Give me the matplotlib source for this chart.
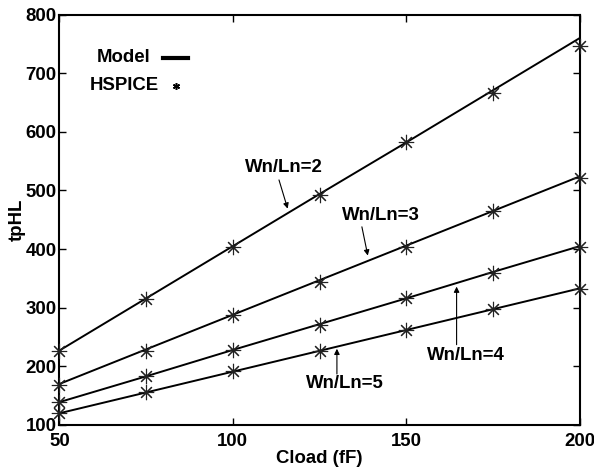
import matplotlib
matplotlib.use("Agg")
import matplotlib.pyplot as plt

plt.rcParams['font.family'] = ['Liberation Sans', 'DejaVu Sans']
plt.rcParams['font.weight'] = 'bold'

cload = [50, 75, 100, 125, 150, 175, 200]
series_labels = ["Wn/Ln=2", "Wn/Ln=3", "Wn/Ln=4", "Wn/Ln=5"]
model_2 = [227, 316, 405, 494, 582, 671, 760]
model_3 = [170, 229, 288, 347, 406, 465, 524]
model_4 = [139, 183, 228, 272, 316, 361, 405]
model_5 = [120, 155.5, 191, 226.5, 262, 297.5, 333]
hspice_2 = [227, 315, 403, 493, 582, 667, 747]
hspice_3 = [168, 227, 287, 344, 404, 465, 521]
hspice_4 = [139, 184, 228, 271, 316, 359, 404]
hspice_5 = [121, 156, 192, 227, 262, 298, 332]
xticks = [50, 100, 150, 200]
yticks = [100, 200, 300, 400, 500, 600, 700, 800]

FS = 13.4

fig = plt.figure(figsize=(5.94, 4.71), dpi=100)
ax = fig.add_axes([0.100, 0.0977, 0.876, 0.8713])

for m, h in [(model_2, hspice_2), (model_3, hspice_3), (model_4, hspice_4), (model_5, hspice_5)]:
    ax.plot(cload, m, color='black', lw=1.4, zorder=3)
    ax.plot(cload, h, linestyle='none', marker=(8, 2, 0), markersize=11,
            markeredgewidth=0.8, color='#222222', clip_on=False, zorder=4)

ax.set_xlim(50, 200)
ax.set_ylim(100, 800)
ax.set_xticks(xticks)
ax.set_yticks(yticks)
ax.tick_params(direction='in', length=5, width=1, top=True, right=True,
               labelsize=FS)
ax.tick_params(axis='x', pad=6)
ax.tick_params(axis='y', pad=2)
for lab in ax.get_xticklabels() + ax.get_yticklabels():
    lab.set_fontweight('bold')
for s in ax.spines.values():
    s.set_linewidth(1.5)

ax.set_xlabel("Cload (fF)", fontsize=FS, fontweight='bold', labelpad=0)
ax.set_ylabel("tpHL", fontsize=FS, fontweight='bold', labelpad=0)


def px(xp, yp):
    return fig.transFigure.inverted().transform((xp, 471 - yp))


# legend drawn manually
fig.text(*px(97, 58), "Model", fontsize=FS, fontweight='bold', va='center', ha='left')
fig.text(*px(90, 85), "HSPICE", fontsize=FS, fontweight='bold', va='center', ha='left')
fig.add_artist(plt.Line2D([px(163, 58)[0], px(188, 58)[0]], [px(163, 58)[1]] * 2,
                          color='black', lw=3, transform=fig.transFigure))
fig.add_artist(plt.Line2D([px(176, 86)[0]], [px(176, 86)[1]], marker=(6, 2, 0),
                          markersize=5, markeredgewidth=1.1, color='black',
                          transform=fig.transFigure))

arrow = dict(arrowstyle='-|>', color='black', lw=0.8, mutation_scale=8,
             shrinkA=0, shrinkB=0)
# (label, text pos, arrow tail, arrow head)
labels_pos = [
    (series_labels[0], (114.7, 540), (113.3, 518), (115.8, 469)),
    (series_labels[1], (142.6, 457), (137.2, 438), (138.9, 389)),
    (series_labels[2], (167.1, 218), (164.5, 237), (164.5, 336)),
    (series_labels[3], (132.3, 170), (130.0, 187), (130.0, 230)),
]
for lab, tpos, tail, head in labels_pos:
    ax.text(*tpos, lab, fontsize=FS, fontweight='bold', ha='center', va='center')
    ax.annotate('', xy=head, xytext=tail, arrowprops=arrow)

fig.savefig("out.png", dpi=100)
